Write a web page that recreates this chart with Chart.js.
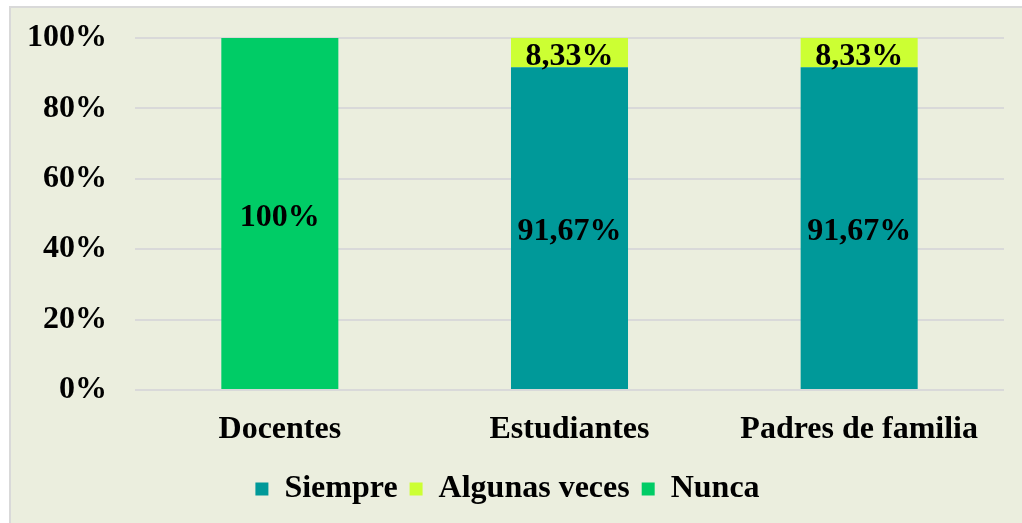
<!DOCTYPE html>
<html>
<head>
<meta charset="utf-8">
<script src="https://cdn.jsdelivr.net/npm/chart.js@4.4.1/dist/chart.umd.min.js"></script>
<style>
  html, body { margin: 0; padding: 0; background: #fff; }
  #marco {
    position: absolute; left: 9px; top: 6px; width: 1013px; height: 517px;
    box-sizing: border-box; border-top: 2px solid #d9d9d9; border-left: 2px solid #d9d9d9;
    background: #ebeede;
  }
</style>
</head>
<body>
<div id="marco"><canvas id="grafico"></canvas></div>
<script>
// Datos del gráfico
var categorias = ['Docentes', 'Estudiantes', 'Padres de familia'];
var siempre = [0, 91.67, 91.67];
var algunasVeces = [0, 8.33, 8.33];
var nunca = [100, 0, 0];
var ticksY = [0, 20, 40, 60, 80, 100];

var fuente = { family: '"Liberation Serif", "Times New Roman", serif', weight: 'bold', size: 32 };

// Etiquetas de valor dentro de cada segmento
var etiquetas = {
    id: 'etiquetas',
    afterDatasetsDraw: function (chart) {
        var ctx = chart.ctx;
        ctx.save();
        ctx.font = 'bold 32px "Liberation Serif", "Times New Roman", serif';
        ctx.fillStyle = '#000';
        ctx.textAlign = 'center';
        ctx.textBaseline = 'middle';
        chart.data.datasets.forEach(function (ds, i) {
            var meta = chart.getDatasetMeta(i);
            meta.data.forEach(function (bar, j) {
                var v = ds.data[j];
                if (!v) return;
                var txt = (Number.isInteger(v) ? String(v) : v.toFixed(2).replace('.', ',')) + '%';
                ctx.fillText(txt, bar.x, (bar.y + bar.base) / 2 + 4);
            });
        });
        ctx.restore();
    }
};

var ctx = document.getElementById('grafico').getContext('2d');
var grafico = new Chart(ctx, {
    type: 'bar',
    data: {
        labels: categorias,
        datasets: [
            { label: 'Siempre', data: siempre, backgroundColor: '#009999' },
            { label: 'Algunas veces', data: algunasVeces, backgroundColor: '#ccff33' },
            { label: 'Nunca', data: nunca, backgroundColor: '#00cc66' }
        ]
    },
    options: {
        responsive: true,
        maintainAspectRatio: false,
        animation: false,
        datasets: { bar: { categoryPercentage: 1, barPercentage: 0.404 } },
        layout: { padding: { top: 30, right: 18, left: 0, bottom: 8 } },
        scales: {
            x: {
                stacked: true,
                grid: { display: false },
                border: { display: false },
                ticks: { color: '#000', font: fuente, padding: 13 },
                afterFit: function (s) { s.height = 71; }
            },
            y: {
                stacked: true,
                min: 0,
                max: 100,
                afterBuildTicks: function (s) { s.ticks = ticksY.map(function (v) { return { value: v }; }); },
                // separación de las etiquetas con marcas invisibles (el padding empuja el área hacia abajo)
                grid: { color: '#d9d9d9', lineWidth: 2, drawTicks: true, tickLength: 28, tickColor: 'transparent' },
                border: { display: false },
                ticks: { color: '#000', font: fuente, padding: 0, callback: function (v) { return v + '%'; } },
                afterFit: function (s) { s.width = 124; }
            }
        },
        plugins: {
            legend: {
                position: 'bottom',
                labels: { color: '#000', font: fuente, boxWidth: 13, boxHeight: 13, padding: 12 }
            },
            tooltip: { enabled: false }
        }
    },
    plugins: [etiquetas]
});
</script>
</body>
</html>
